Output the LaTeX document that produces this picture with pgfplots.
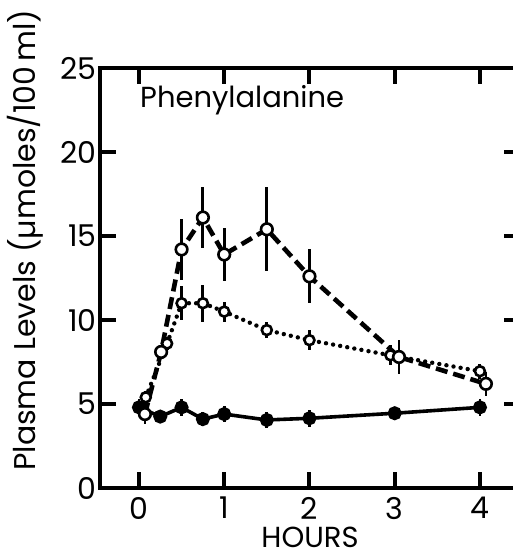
\documentclass[border=0pt]{standalone}
\usepackage{pgfplots}
\pgfplotsset{compat=1.18}
\usepackage{pgfplotstable}
\usepackage{fontspec}
\setmainfont{Poppins}

\pgfplotstableread{
x y e
0 4.8 0.5
0.25 4.25 0.4
0.5 4.8 0.5
0.75 4.1 0.4
1 4.4 0.5
1.5 4.05 0.5
2 4.15 0.5
3 4.45 0.4
4 4.8 0.5
}\control

\pgfplotstableread{
x y e
0.08 5.4 0.4
0.33 8.6 0.4
0.5 11.0 1.0
0.75 11.0 1.1
1.0 10.5 0.6
1.5 9.4 0.5
2.0 8.8 0.6
2.95 7.9 0.6
4.0 6.95 0.45
}\dotted

\pgfplotstableread{
x y e
0.07 4.4 0.6
0.26 8.1 0.3
0.5 14.2 1.8
0.75 16.1 1.8
1.0 13.9 1.6
1.5 15.4 2.5
2.0 12.6 1.6
3.05 7.8 1.0
4.07 6.2 0.7
}\dashedtab

\begin{document}
\begin{tikzpicture}
\begin{axis}[
  scale only axis,
  width=210pt, height=210pt,
  xmin=-0.457, xmax=4.47, ymin=0, ymax=25,
  xtick={0,1,2,3,4}, ytick={0,5,10,15,20,25},
  tick align=inside, major tick length=8pt,
  tick pos=both,
  axis line style={line width=2pt},
  every tick/.style={line width=2pt, black},
  tick label style={font=\fontsize{15}{17}\selectfont},
  /pgf/number format/assume math mode=true,
  yticklabel style={inner xsep=1.5pt},
  xticklabel style={yshift=-1pt},
  xlabel={HOURS},
  xlabel style={at={(axis description cs:0.5,0)}, yshift=-29.5pt, anchor=base, inner sep=0pt, font=\fontsize{14.5}{16}\selectfont},
  ylabel={Plasma Levels (µmoles/100\,ml)},
  ylabel style={at={(axis description cs:-0.1786,0.59)}, anchor=center, font=\fontsize{15}{17}\selectfont},
  clip=false,
]
\addplot[black, line width=1.8pt, mark=*, mark size=2.6pt, mark options={solid, fill=black},
  error bars/.cd, y dir=both, y explicit, error mark=none,
  error bar style={line width=1.4pt, solid}]
  table[x=x, y=y, y error=e]{\control};
\addplot[black, line width=2.2pt, line cap=round, dash pattern=on 0pt off 3.6pt,
  mark=*, mark size=2.5pt, mark options={solid, fill=white, line width=1.3pt}]
  table[x=x, y=y]{\dotted};
\addplot[draw=none, mark=none, forget plot,
  error bars/.cd, y dir=both, y explicit, error mark=none,
  error bar style={draw=black, line width=1.5pt, solid, line cap=butt}]
  table[x=x, y=y, y error=e]{\dotted};
\addplot[black, line width=2.3pt, dash pattern=on 6pt off 3pt,
  mark=*, mark size=2.9pt, mark options={solid, fill=white, line width=1.3pt},
  error bars/.cd, y dir=both, y explicit, error mark=none,
  error bar style={line width=1.4pt, solid}]
  table[x=x, y=y, y error=e]{\dashedtab};
\node[anchor=west, font=\fontsize{14.5}{16}\selectfont] at (rel axis cs:0.079,0.924) {Phenylalanine};
\coordinate (bl) at (rel axis cs:0,0);
\coordinate (tr) at (rel axis cs:1,1);
\end{axis}
\pgfresetboundingbox
\path ([xshift=-50pt,yshift=-35pt]bl) rectangle ([xshift=-3.5pt,yshift=34pt]tr);
\end{tikzpicture}
\end{document}
